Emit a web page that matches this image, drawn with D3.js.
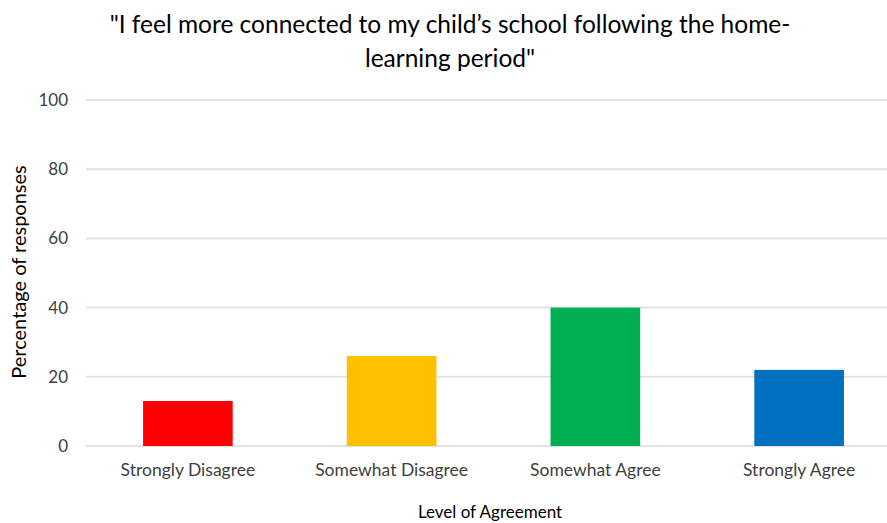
<!DOCTYPE html>
<html>
<head>
<meta charset="utf-8">
<script src="https://cdn.jsdelivr.net/npm/d3@7"></script>
<style>
  body { margin: 0; background: #fff; }
  svg { font-family: Lato, "Open Sans", sans-serif; }
</style>
</head>
<body>
<script>
var categories = ["Strongly Disagree", "Somewhat Disagree", "Somewhat Agree", "Strongly Agree"];
var percentages = [13, 26, 40, 22];
var barColors = ["#ff0000", "#ffc000", "#00b050", "#0070c0"];
var yTicks = [0, 20, 40, 60, 80, 100];
var titleLines = ["\"I feel more connected to my child\u2019s school following the home-", "learning period\""];

var width = 887, height = 523;
var margin = {top: 100, right: -14, bottom: 77, left: 86};

var svg = d3.select("body").append("svg")
    .attr("width", width)
    .attr("height", height);

var x = d3.scaleBand()
    .domain(categories)
    .range([margin.left, width - margin.right])
    .paddingInner(0.56)
    .paddingOuter(0.28);

var y = d3.scaleLinear()
    .domain([0, 100])
    .range([height - margin.bottom, margin.top]);

// gridlines
svg.append("g")
    .selectAll("line")
    .data(yTicks)
  .enter().append("line")
    .attr("x1", margin.left)
    .attr("x2", width - margin.right)
    .attr("y1", function(d) { return y(d); })
    .attr("y2", function(d) { return y(d); })
    .style("stroke", "#e3e3e3")
    .style("stroke-width", 2);

// y axis labels
var yAxis = svg.append("g")
    .attr("transform", "translate(" + margin.left + ",0)")
    .call(d3.axisLeft(y).tickValues(yTicks).tickSize(0).tickPadding(18));
yAxis.select(".domain").remove();
yAxis.selectAll("text")
    .style("font-size", "17px")
    .style("font-family", "Lato, sans-serif")
    .style("fill", "#404040");

// bars
svg.selectAll(".bar")
    .data(percentages)
  .enter().append("rect")
    .attr("class", "bar")
    .attr("x", function(d, i) { return x(categories[i]); })
    .attr("width", x.bandwidth())
    .attr("y", function(d) { return y(d); })
    .attr("height", function(d) { return y(0) - y(d); })
    .style("fill", function(d, i) { return barColors[i]; });

// x axis labels
var xAxis = svg.append("g")
    .attr("transform", "translate(0," + y(0) + ")")
    .call(d3.axisBottom(x).tickSize(0).tickPadding(18));
xAxis.select(".domain").remove();
xAxis.selectAll("text")
    .style("font-size", "17.5px")
    .style("font-family", "Lato, sans-serif")
    .style("fill", "#404040");

// title
svg.append("g").selectAll("text")
    .data(titleLines)
  .enter().append("text")
    .attr("x", 450)
    .attr("y", function(d, i) { return 33 + i * 34; })
    .attr("text-anchor", "middle")
    .style("font-size", "24.5px")
    .style("fill", "#000")
    .text(function(d) { return d; });

// axis titles
svg.append("text")
    .attr("transform", "rotate(-90)")
    .attr("x", -272)
    .attr("y", 26)
    .attr("text-anchor", "middle")
    .style("font-size", "20px")
    .style("fill", "#000")
    .text("Percentage of responses");

svg.append("text")
    .attr("x", 490)
    .attr("y", 518)
    .attr("text-anchor", "middle")
    .style("font-size", "17px")
    .style("fill", "#000")
    .text("Level of Agreement");
</script>
</body>
</html>
